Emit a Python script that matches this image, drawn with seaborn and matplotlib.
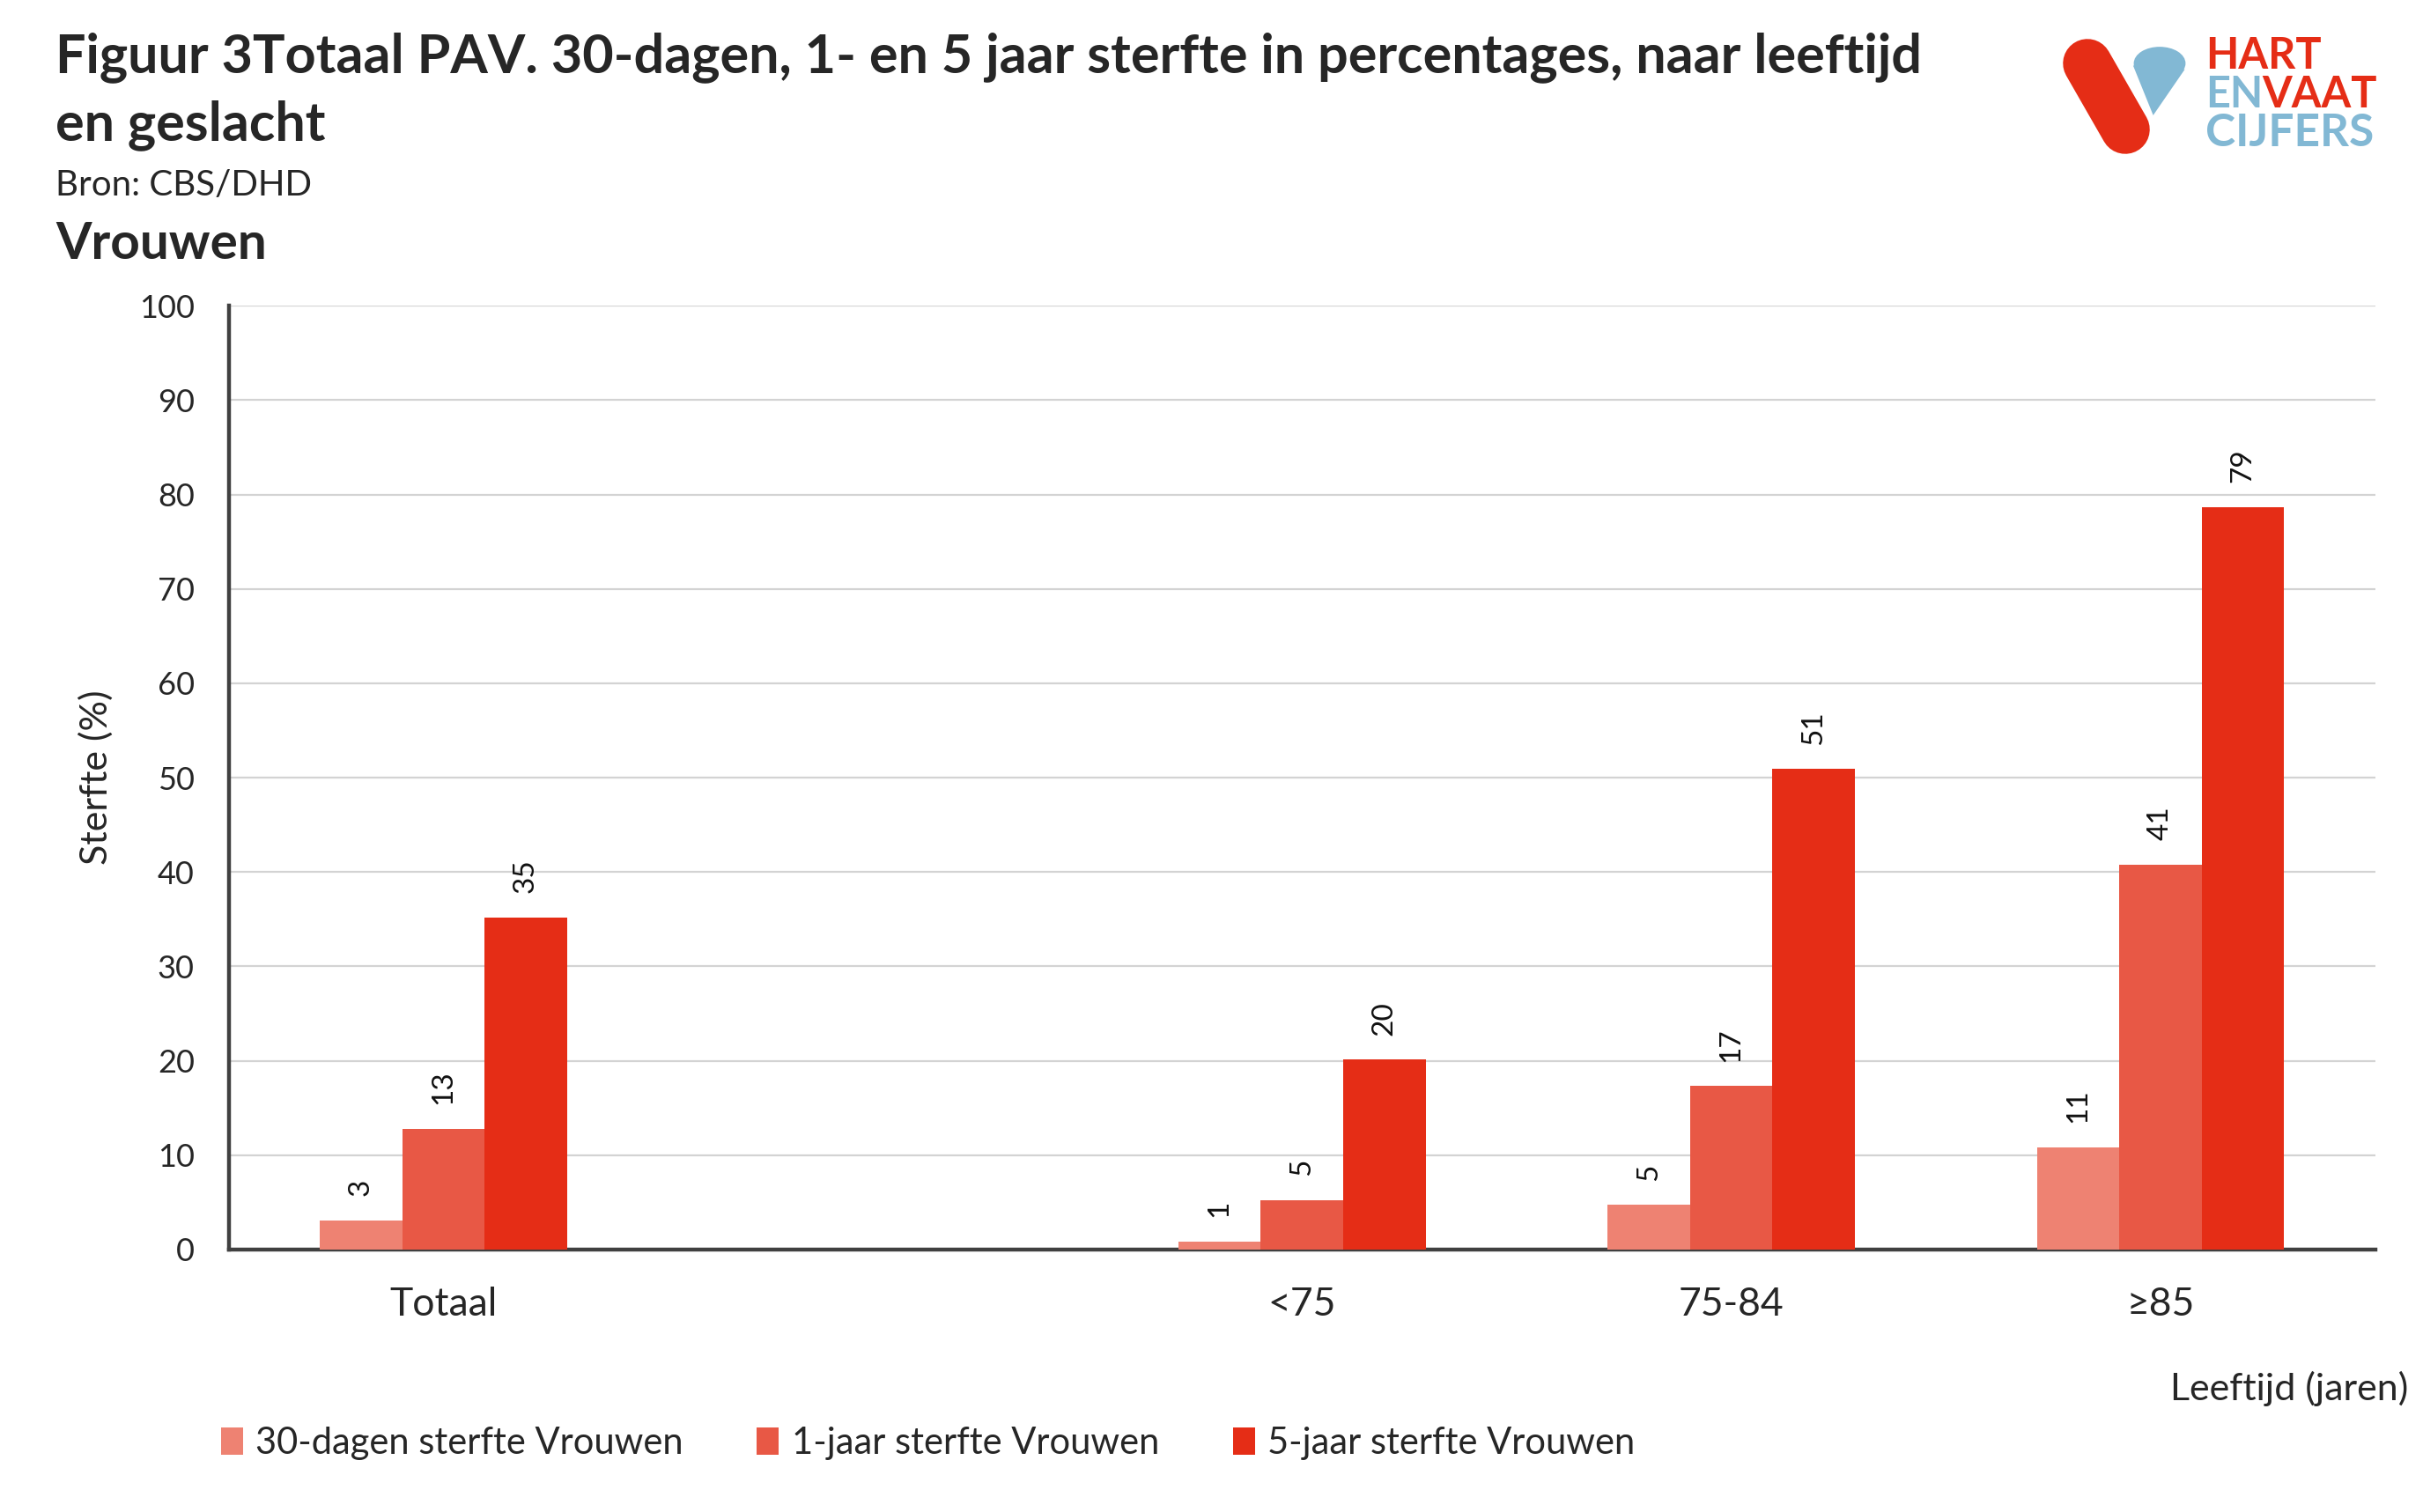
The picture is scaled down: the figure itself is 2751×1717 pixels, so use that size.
import numpy as np
import pandas as pd
import seaborn as sns
import matplotlib.pyplot as plt
from matplotlib.lines import Line2D
from matplotlib.patches import Circle, Polygon, Patch

# data
categories = ["Totaal", " ", "<75", "75-84", "≥85"]
groups = ["Totaal", "<75", "75-84", "≥85"]
dagen30 = [3.1, 0.8, 4.7, 10.8]
jaar1 = [12.8, 5.2, 17.3, 40.8]
jaar5 = [35.2, 20.1, 50.9, 78.7]
series = ["30-dagen sterfte Vrouwen", "1-jaar sterfte Vrouwen", "5-jaar sterfte Vrouwen"]
colors = ["#EE8272", "#E85845", "#E52D16"]
yticks = list(range(0, 101, 10))

df = pd.DataFrame({
    "leeftijd": groups * 3,
    "serie": np.repeat(series, len(groups)),
    "sterfte": dagen30 + jaar1 + jaar5,
})

sns.set_theme(style="white")
plt.rcParams["font.family"] = ["Lato", "DejaVu Sans"]

W, H, DPI = 2751, 1717, 200
fig = plt.figure(figsize=(W / DPI, H / DPI), dpi=DPI)
ax = fig.add_axes([148 / 1568, 1 - 809 / 979, (1537 - 148) / 1568, (809 - 198) / 979])

sns.barplot(data=df, x="leeftijd", y="sterfte", hue="serie", order=categories,
            hue_order=series, palette=colors, width=0.576, gap=0, saturation=1,
            errorbar=None, legend=False, ax=ax, zorder=3, linewidth=0)

# value labels, rotated like the original
for cont in ax.containers:
    ax.bar_label(cont, labels=[f"{v:.0f}" for v in cont.datavalues], rotation=90,
                 padding=10, fontsize=12, color="#111111")

ax.set_ylim(0, 100)
ax.set_xlim(-0.5, len(categories) - 0.5)
ax.set_yticks(yticks)
ax.set_yticklabels([str(t) for t in yticks], fontsize=13)
ax.tick_params(axis="y", length=0, pad=14)
ax.set_xticks(range(len(categories)))
ax.set_xticklabels(categories, fontsize=16)
ax.tick_params(axis="x", which="major", length=0, pad=15)
ax.set_xticks(np.arange(0.5, len(categories), 1), minor=True)
ax.tick_params(axis="x", which="minor", direction="in", length=6, width=1.2, color="#404040")
ax.yaxis.grid(True, color="#D3D3D3", linewidth=0.8, zorder=0)
ax.xaxis.grid(False)
ax.set_xlabel("")
ax.set_ylabel("")
for s in ["top", "right"]:
    ax.spines[s].set_visible(False)
for s in ["left", "bottom"]:
    ax.spines[s].set_color("#404040")
    ax.spines[s].set_linewidth(1.6)

def px(x, y):
    return x / W, 1 - y / H

# titles
fig.text(*px(63, 65), "Figuur 3Totaal PAV. 30-dagen, 1- en 5 jaar sterfte in percentages, naar leeftijd",
         fontsize=22, fontweight="bold", va="center", ha="left")
fig.text(*px(63, 142), "en geslacht", fontsize=22, fontweight="bold", va="center", ha="left")
fig.text(*px(63, 211), "Bron: CBS/DHD", fontsize=14.5, va="center", ha="left")
fig.text(*px(63, 277), "Vrouwen", fontsize=21, fontweight="bold", va="center", ha="left")

fig.text(*px(109, 883), "Sterfte (%)", fontsize=15.5, rotation=90, va="center", ha="center")
fig.text(*px(2734, 1577), "Leeftijd (jaren)", fontsize=15.5, va="center", ha="right")

# legend
handles = [Patch(facecolor=c, edgecolor="none") for c in colors]
fig.legend(handles, series, loc="center left", bbox_to_anchor=px(234, 1639), ncol=3,
           frameon=False, fontsize=15, handlelength=0.6, handleheight=0.75,
           handletextpad=0.35, columnspacing=2.0, borderaxespad=0)

# logo
red, blue = "#E52D16", "#82B8D4"
fig.add_artist(Line2D([2370 / W, 2413 / W], [1 - 72 / H, 1 - 147 / H], color=red,
                      linewidth=20, solid_capstyle="round", transform=fig.transFigure))
cx, cy, r = 2452, 72, 28
fig.add_artist(Circle(px(cx, cy), r / W, color=blue, transform=fig.transFigure))
fig.add_artist(Polygon([px(cx - r, cy + 4), px(cx + r - 2, cy + 8), px(2445, 128)],
                       closed=True, color=blue, transform=fig.transFigure))
fig.text(*px(2504, 63), "HART", color=red, fontsize=17.5, fontweight="bold", va="center", ha="left")
fig.text(*px(2504, 108), "EN", color=blue, fontsize=17.5, fontweight="bold", va="center", ha="left")
fig.text(*px(2568, 108), "VAAT", color=red, fontsize=17.5, fontweight="bold", va="center", ha="left")
fig.text(*px(2504, 152), "CIJFERS", color=blue, fontsize=18.5, fontweight="bold", va="center", ha="left")

fig.savefig("out.png", dpi=DPI)
